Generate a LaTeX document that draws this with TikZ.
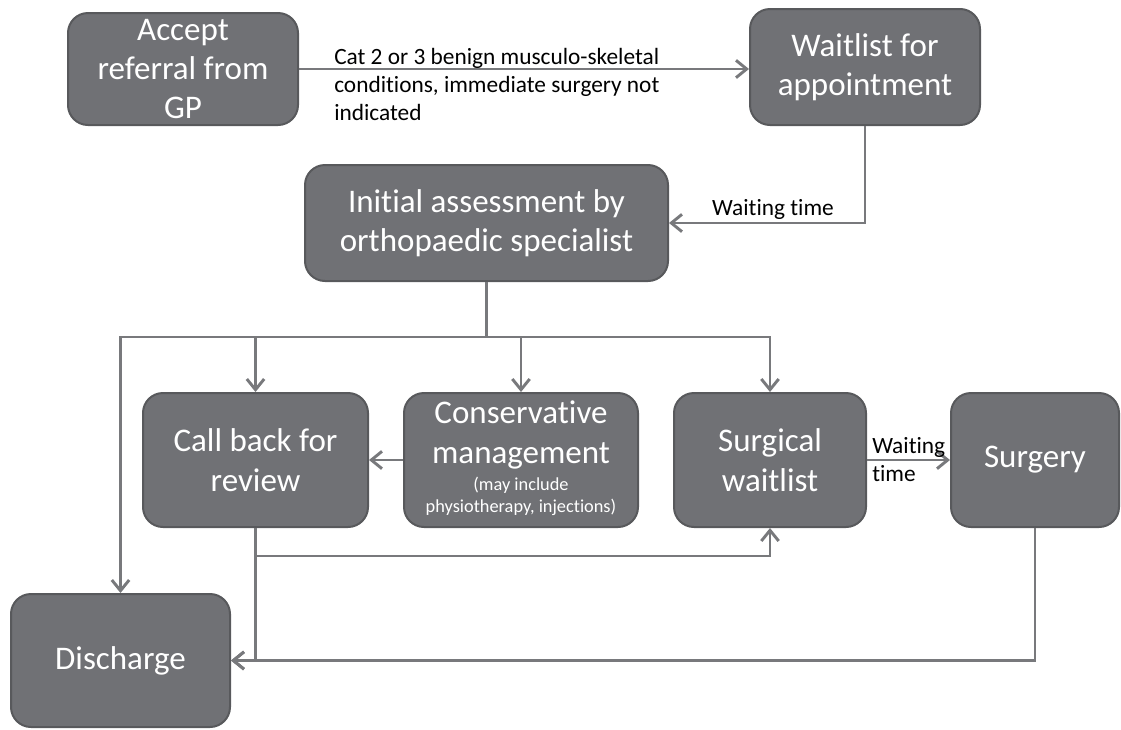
\documentclass[tikz,border=0pt]{standalone}
\usepackage{fontspec}
\setmainfont{Carlito}[Ligatures=NoCommon]
\usetikzlibrary{arrows.meta}
\definecolor{boxgray}{RGB}{112,113,117}
\definecolor{boxedge}{RGB}{88,89,92}
\definecolor{linegray}{RGB}{120,121,124}

\begin{document}
\begin{tikzpicture}[x=0.75pt,y=0.75pt,yscale=-1,xscale=1,
  proc/.style={draw=boxedge,line width=1.5pt,fill=boxgray,rounded corners=15pt,text=white,align=center,inner sep=0pt,font=\fontsize{24.75}{29.5}\selectfont},
  flow/.style={draw=linegray,line width=2.2pt,-{Straight Barb[length=8pt,width=13pt]}},
  lbl/.style={align=left,inner sep=0pt,font=\fontsize{17.5}{21}\selectfont}]
\useasboundingbox (0,0) rectangle (1121,729);

%Shape: Rounded Rect
\node [proc, minimum width=172.5pt, minimum height=84pt] (acc) at (183,69) {Accept\\referral from\\GP};
%Shape: Rounded Rect
\node [proc, minimum width=172.5pt, minimum height=87pt] (wait) at (865,67) {Waitlist for\\appointment};
%Shape: Rounded Rect
\node [proc, minimum width=272.25pt, minimum height=87pt] (init) at (486.5,223) {Initial assessment by\\orthopaedic specialist};
%Shape: Rounded Rect
\node [proc, minimum width=168.75pt, minimum height=100.5pt] (cb) at (255.5,460) {Call back for\\review};
%Shape: Rounded Rect
\node [proc, minimum width=175.5pt, minimum height=100.5pt] (cons) at (521,460) {Conservative\\management\\[-9pt]{\fontsize{13.75}{16.5}\selectfont\begin{tabular}[t]{@{}c@{}}(may include\\physiotherapy, injections)\end{tabular}}};
%Shape: Rounded Rect
\node [proc, minimum width=144pt, minimum height=100.5pt] (surgw) at (770,460) {Surgical\\waitlist};
%Shape: Rounded Rect
\node [proc, minimum width=126pt, minimum height=100.5pt] (surg) at (1035,460) {Surgery};
%Shape: Rounded Rect
\node [proc, minimum width=164.25pt, minimum height=99.75pt] (dis) at (120.5,660.5) {Discharge};

%Straight Lines
\draw [flow] (acc.east) -- (acc.east -| wait.west);
\draw [flow] (wait.south) |- (init.east);
\coordinate (fork) at (486.5,337);
\draw [flow] (init.south) -- (fork) -| (dis.north);
\draw [flow] (fork) -| (surgw.north);
\draw [flow] (fork -| cb.north) -- (cb.north);
\draw [flow] (fork -| cons.north) -- (cons.north);
\draw [flow] (cons.west) -- (cb.east);
\draw [flow] (cb.south) |- (dis.east);
\coordinate (cbjoin) at (255.5,556);
\draw [flow] (cbjoin) -| (surgw.south);
\draw [flow] (surg.south) |- (dis.east);
\draw [flow] (surgw.east) -- (surg.west);

% Text Node
\node [lbl, anchor=west] (catlbl) at (334,84) {Cat 2 or 3 benign musculo-skeletal\\conditions, immediate surgery not\\indicated};
% Text Node
\node [lbl] (waitlbl) at (773,209) {Waiting time};
% Text Node
\node [lbl, anchor=west] (surglbl) at (872,460) {Waiting\\time};
\end{tikzpicture}
\end{document}
